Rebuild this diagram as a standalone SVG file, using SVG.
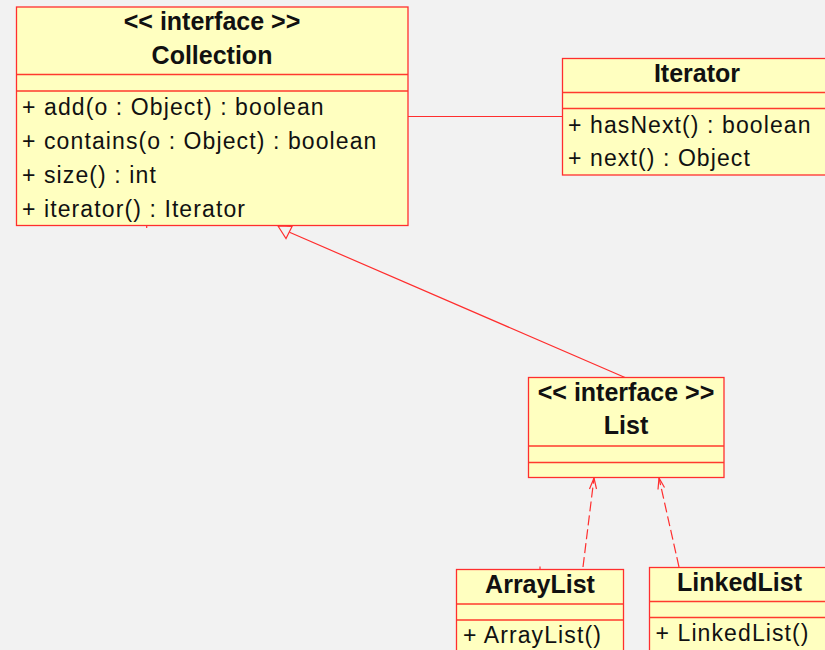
<svg xmlns="http://www.w3.org/2000/svg" width="825" height="650" viewBox="0 0 825 650">
  <style>
    .box { fill: #ffffc0; stroke: #ff2e2e; stroke-width: 1.3; }
    .div { stroke: #ff3a2e; stroke-width: 1.3; fill: none; }
    .title { font-family: "Liberation Sans", Arial, sans-serif; font-weight: bold; font-size: 25px; fill: #111; text-anchor: middle; }
    .op { font-family: "Liberation Sans", Arial, sans-serif; font-size: 23px; letter-spacing: 1.1px; fill: #111; }
    .edge { stroke: #ff2e2e; stroke-width: 1.2; fill: none; }
    .dash { stroke-dasharray: 10 4; }
  </style>
  <rect x="0" y="0" width="825" height="650" fill="#f2f2f2"/>

  <!-- connectors -->
  <g id="connectors">
    <!-- Collection uses Iterator -->
    <line class="edge" x1="408" y1="116.5" x2="562.5" y2="116.5"/>
    <!-- List extends Collection -->
    <line class="edge" x1="289.5" y1="232.3" x2="625" y2="377.5"/>
    <polygon class="edge" points="278,226 286,238.5 292,226.5"/>
    <!-- ArrayList implements List -->
    <line class="edge dash" x1="583" y1="567" x2="594" y2="478"/>
    <polyline class="edge" points="589.5,489 594,478 596.5,489"/>
    <!-- LinkedList implements List -->
    <line class="edge dash" x1="679" y1="567" x2="659" y2="478"/>
    <polyline class="edge" points="658,489.5 659,478 664.5,487.5"/>
    <!-- stub ends -->
    <line class="edge" x1="146.7" y1="225.5" x2="146.7" y2="228"/>
    <line class="edge" x1="540" y1="566.5" x2="540" y2="569.5"/>
  </g>

  <g id="collection">
    <rect class="box" x="16.5" y="7" width="391.5" height="218.5"/>
    <line class="div" x1="16.5" y1="74.5" x2="408" y2="74.5"/>
    <line class="div" x1="16.5" y1="91" x2="408" y2="91"/>
    <text class="title" x="212" y="30">&lt;&lt; interface &gt;&gt;</text>
    <text class="title" x="212" y="64">Collection</text>
    <text class="op" x="22" y="115">+ add(o : Object) : boolean</text>
    <text class="op" x="22" y="149">+ contains(o : Object) : boolean</text>
    <text class="op" x="22" y="183">+ size() : int</text>
    <text class="op" x="22" y="217">+ iterator() : Iterator</text>
  </g>

  <g id="iterator">
    <rect class="box" x="562.5" y="58.5" width="270" height="116.5"/>
    <line class="div" x1="562.5" y1="92.5" x2="832.5" y2="92.5"/>
    <line class="div" x1="562.5" y1="108.5" x2="832.5" y2="108.5"/>
    <text class="title" x="697" y="82">Iterator</text>
    <text class="op" x="568" y="133">+ hasNext() : boolean</text>
    <text class="op" x="568" y="166">+ next() : Object</text>
  </g>

  <g id="list">
    <rect class="box" x="528.5" y="377.5" width="195.5" height="100"/>
    <line class="div" x1="528.5" y1="446" x2="724" y2="446"/>
    <line class="div" x1="528.5" y1="462.5" x2="724" y2="462.5"/>
    <text class="title" x="626" y="401">&lt;&lt; interface &gt;&gt;</text>
    <text class="title" x="626" y="434">List</text>
  </g>

  <g id="arraylist">
    <rect class="box" x="456.5" y="569.5" width="167" height="100"/>
    <line class="div" x1="456.5" y1="604" x2="623.5" y2="604"/>
    <line class="div" x1="456.5" y1="620" x2="623.5" y2="620"/>
    <text class="title" x="540" y="593">ArrayList</text>
    <text class="op" x="463" y="643">+ ArrayList()</text>
  </g>

  <g id="linkedlist">
    <rect class="box" x="649.5" y="567.5" width="180" height="100"/>
    <line class="div" x1="649.5" y1="601.5" x2="829.5" y2="601.5"/>
    <line class="div" x1="649.5" y1="617.5" x2="829.5" y2="617.5"/>
    <text class="title" x="739.5" y="591">LinkedList</text>
    <text class="op" x="655.5" y="641">+ LinkedList()</text>
  </g>
</svg>
